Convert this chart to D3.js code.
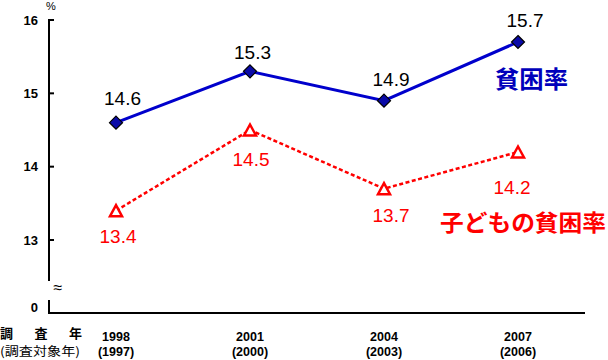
<!DOCTYPE html>
<html><head><meta charset="utf-8">
<script src="https://cdn.jsdelivr.net/npm/d3@7"></script>
<style>body{margin:0;background:#fff}svg{display:block}</style>
</head><body>
<svg id="c" width="608" height="360"></svg>
<script>
const years = ["1998","2001","2004","2007"];
const targetYears = ["(1997)","(2000)","(2003)","(2006)"];
const povertyRate = [14.6,15.3,14.9,15.7];
const childPovertyRate = [13.4,14.5,13.7,14.2];
const yTicks = [13,14,15,16];

// label placement tweaks (style, not data)
const blueLabelOffset = [[6.5,-17.5],[2.5,-12.5],[7,-14.5],[7,-15]];
const redLabelOffset = [[2,32.5],[1,36],[7,33.5],[-6,42]];

const svg = d3.select("#c");
const font = "Arial, 'Liberation Sans', sans-serif";
const jfont = "'Noto Sans CJK JP', sans-serif";
const x = d3.scaleBand().domain(years).range([49,585]);
const y = d3.scaleLinear().domain([13,16]).range([240,20]);
const cx = d => x(d)+x.bandwidth()/2;

// axes
svg.append("line").attr("x1",49).attr("x2",49).attr("y1",19).attr("y2",281).attr("stroke","#000").attr("stroke-width",2);
svg.append("line").attr("x1",49).attr("x2",49).attr("y1",300).attr("y2",314).attr("stroke","#000").attr("stroke-width",2);
svg.append("line").attr("x1",48).attr("x2",585).attr("y1",313).attr("y2",313).attr("stroke","#000").attr("stroke-width",2);
const yAxis = svg.append("g");
yTicks.forEach(t=>{
  yAxis.append("line").attr("x1",49).attr("x2",54).attr("y1",y(t)).attr("y2",y(t)).attr("stroke","#000").attr("stroke-width",2);
  yAxis.append("text").attr("x",38).attr("y",y(t)).attr("dy","0.36em").attr("text-anchor","end")
    .attr("font-family",font).attr("font-weight","bold").attr("font-size",13).text(t);
});
svg.append("text").attr("x",38).attr("y",307).attr("dy","0.36em").attr("text-anchor","end")
  .attr("font-family",font).attr("font-weight","bold").attr("font-size",13).text("0");
svg.append("text").attr("x",51).attr("y",10).attr("text-anchor","middle")
  .attr("font-family",font).attr("font-size",11).text("%");
svg.append("text").attr("x",58).attr("y",293).attr("text-anchor","middle")
  .attr("font-family",font).attr("font-size",16).text("≈");

// x labels
years.forEach((yr,i)=>{
  svg.append("text").attr("x",cx(yr)).attr("y",341).attr("text-anchor","middle")
    .attr("font-family",font).attr("font-weight","bold").attr("font-size",12.5).text(yr);
  svg.append("text").attr("x",cx(yr)).attr("y",356).attr("text-anchor","middle")
    .attr("font-family",font).attr("font-weight","bold").attr("font-size",12.5).text(targetYears[i]);
});
svg.append("text").attr("x",0).attr("y",338).attr("font-family",jfont).attr("font-weight","bold")
  .attr("font-size",13).attr("textLength",82).attr("lengthAdjust","spacing").text("調　査　年");
svg.append("text").attr("x",0).attr("y",356).attr("font-family",jfont)
  .attr("font-size",12).attr("textLength",80).attr("lengthAdjust","spacingAndGlyphs").text("(調査対象年)");

// lines
const line = d3.line().x((d,i)=>cx(years[i])).y(d=>y(d));
svg.append("path").datum(childPovertyRate).attr("d",line).attr("fill","none")
  .attr("stroke","#ff0000").attr("stroke-width",2.5).attr("stroke-dasharray","4,2.5");
svg.append("path").datum(povertyRate).attr("d",line).attr("fill","none")
  .attr("stroke","#0000cc").attr("stroke-width",3);

// markers
povertyRate.forEach((v,i)=>{
  svg.append("path").attr("d","M0,-6.5L6.5,0L0,6.5L-6.5,0Z")
    .attr("transform",`translate(${cx(years[i])},${y(v)})`)
    .attr("fill","#0a0aa8").attr("stroke","#000").attr("stroke-width",1.2);
});
childPovertyRate.forEach((v,i)=>{
  svg.append("path").attr("d","M0,-5.5L6,5.5L-6,5.5Z")
    .attr("transform",`translate(${cx(years[i])},${y(v)})`)
    .attr("fill","#fff").attr("stroke","#ff0000").attr("stroke-width",2.5).attr("stroke-linejoin","miter");
});

// value labels
povertyRate.forEach((v,i)=>{
  svg.append("text").attr("x",cx(years[i])+blueLabelOffset[i][0]).attr("y",y(v)+blueLabelOffset[i][1]).attr("text-anchor","middle")
    .attr("font-family",font).attr("font-size",19).attr("fill","#000").text(v.toFixed(1));
});
childPovertyRate.forEach((v,i)=>{
  svg.append("text").attr("x",cx(years[i])+redLabelOffset[i][0]).attr("y",y(v)+redLabelOffset[i][1]).attr("text-anchor","middle")
    .attr("font-family",font).attr("font-size",19).attr("fill","#ff0000").text(v.toFixed(1));
});

// legend labels
svg.append("text").attr("x",495).attr("y",88).attr("font-family",jfont)
  .attr("font-weight","bold").attr("font-size",24).attr("fill","#0000bb")
  .attr("textLength",73).attr("lengthAdjust","spacingAndGlyphs").text("貧困率");
svg.append("text").attr("x",440).attr("y",231).attr("font-family",jfont)
  .attr("font-weight","bold").attr("font-size",23).attr("fill","#ff0000")
  .attr("textLength",166).attr("lengthAdjust","spacingAndGlyphs").text("子どもの貧困率");
</script>
</body></html>
